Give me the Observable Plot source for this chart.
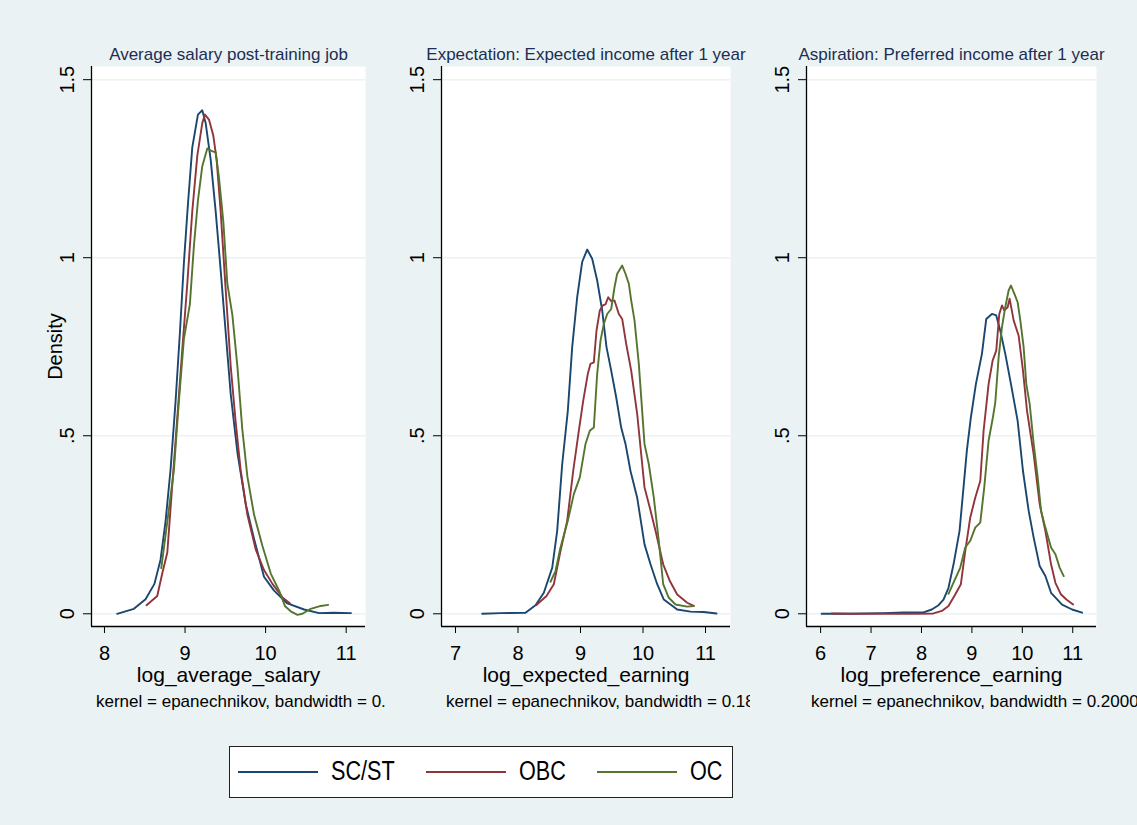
<!DOCTYPE html>
<html><head><meta charset="utf-8">
<script src="https://cdn.jsdelivr.net/npm/d3@7"></script>
<script src="https://cdn.jsdelivr.net/npm/@observablehq/plot@0.6"></script>
<style>
html,body{margin:0;padding:0;background:#eaf2f3;}
#root{position:relative;width:1137px;height:825px;background:#eaf2f3;font-family:"Liberation Sans",Arial,sans-serif;overflow:hidden}
.panel{position:absolute;top:0}
.legend{position:absolute;left:229px;top:746px;width:504px;height:52px;background:#fff;border:1.5px solid #222;box-sizing:border-box}
.sw{position:absolute;height:0;border-top:2.5px solid;top:24px}
.lt{position:absolute;top:9px;font-size:27px;line-height:30px;color:#000;transform:scaleX(0.8);transform-origin:left center;white-space:nowrap}
</style></head>
<body><div id="root"></div>
<script>
const groups = ["SC/ST", "OBC", "OC"];
const colors = ["#1a476f", "#90353b", "#55752f"];
const yTicks = [0, 0.5, 1, 1.5];
const yTickLabels = ["0", ".5", "1", "1.5"];

const titles = ["Average salary post-training job", "Expectation: Expected income after 1 year", "Aspiration: Preferred income after 1 year"];
const xLabels = ["log_average_salary", "log_expected_earning", "log_preference_earning"];
const captions = ["kernel = epanechnikov, bandwidth = 0.", "kernel = epanechnikov, bandwidth = 0.18", "kernel = epanechnikov, bandwidth = 0.2000"];
const xTicks1 = [8, 9, 10, 11];
const xTicks2 = [7, 8, 9, 10, 11];
const xTicks3 = [6, 7, 8, 9, 10, 11];

// Panel 1: log_average_salary
const salary_SCST = [[8.157,0],[8.365,0.014],[8.51,0.041],[8.62,0.084],[8.696,0.152],[8.758,0.259],[8.82,0.404],[8.883,0.598],[8.937,0.792],[8.986,0.986],[9.036,1.15],[9.09,1.31],[9.16,1.402],[9.214,1.414],[9.256,1.378],[9.318,1.276],[9.38,1.131],[9.442,0.966],[9.504,0.792],[9.567,0.617],[9.65,0.453],[9.754,0.307],[9.857,0.21],[9.98,0.104],[10.105,0.065],[10.27,0.029],[10.478,0.012],[10.665,0.002],[10.85,0.003],[11.06,0.002]];
const salary_OBC = [[8.522,0.024],[8.655,0.05],[8.717,0.113],[8.78,0.172],[8.84,0.356],[8.903,0.549],[8.966,0.743],[9.028,0.927],[9.09,1.131],[9.152,1.286],[9.214,1.378],[9.247,1.402],[9.297,1.388],[9.35,1.344],[9.392,1.276],[9.442,1.131],[9.483,0.985],[9.525,0.84],[9.567,0.695],[9.628,0.54],[9.69,0.404],[9.774,0.278],[9.877,0.181],[9.98,0.123],[10.085,0.084],[10.21,0.046],[10.304,0.029]];
const salary_OC = [[8.705,0.128],[8.78,0.259],[8.862,0.404],[8.924,0.598],[8.986,0.772],[9.06,0.869],[9.11,1.033],[9.16,1.16],[9.214,1.257],[9.276,1.307],[9.326,1.3],[9.38,1.296],[9.42,1.228],[9.475,1.102],[9.525,0.927],[9.587,0.84],[9.65,0.695],[9.71,0.52],[9.774,0.385],[9.857,0.278],[9.96,0.191],[10.064,0.113],[10.168,0.065],[10.242,0.021],[10.312,0.007],[10.395,-0.003],[10.457,0],[10.56,0.014],[10.685,0.022],[10.777,0.025]];

// Panel 2: log_expected_earning
const expected_SCST = [[7.427,0],[7.72,0.002],[8.12,0.003],[8.28,0.024],[8.413,0.059],[8.547,0.129],[8.627,0.233],[8.707,0.42],[8.797,0.57],[8.867,0.749],[8.947,0.889],[9.027,0.988],[9.107,1.023],[9.187,0.997],[9.267,0.936],[9.347,0.852],[9.416,0.749],[9.491,0.683],[9.571,0.608],[9.651,0.523],[9.72,0.477],[9.8,0.401],[9.907,0.326],[10.024,0.195],[10.12,0.139],[10.227,0.083],[10.333,0.04],[10.547,0.012],[10.76,0.006],[10.973,0.005],[11.176,0.001]];
const expected_OBC = [[8.29,0.024],[8.456,0.05],[8.573,0.083],[8.68,0.176],[8.787,0.261],[8.883,0.401],[8.973,0.514],[9.043,0.598],[9.117,0.674],[9.16,0.702],[9.213,0.706],[9.256,0.795],[9.309,0.852],[9.357,0.866],[9.4,0.869],[9.443,0.889],[9.491,0.878],[9.544,0.88],[9.613,0.842],[9.667,0.828],[9.731,0.758],[9.811,0.683],[9.907,0.561],[10.024,0.355],[10.109,0.298],[10.2,0.233],[10.323,0.139],[10.43,0.092],[10.547,0.054],[10.707,0.031],[10.813,0.022]];
const expected_OC = [[8.52,0.09],[8.6,0.12],[8.68,0.186],[8.797,0.261],[8.893,0.336],[8.989,0.383],[9.08,0.477],[9.149,0.514],[9.213,0.523],[9.267,0.674],[9.32,0.767],[9.373,0.814],[9.427,0.842],[9.491,0.856],[9.544,0.917],[9.587,0.955],[9.667,0.978],[9.72,0.955],[9.773,0.927],[9.811,0.88],[9.864,0.824],[9.933,0.702],[10.024,0.477],[10.093,0.42],[10.173,0.326],[10.253,0.204],[10.323,0.083],[10.413,0.045],[10.52,0.026],[10.707,0.02],[10.813,0.022]];

// Panel 3: log_preference_earning
const preferred_SCST = [[6.02,0],[6.583,0],[7.245,0.002],[7.642,0.004],[8.04,0.004],[8.205,0.012],[8.338,0.024],[8.437,0.04],[8.536,0.073],[8.636,0.139],[8.755,0.233],[8.834,0.355],[8.9,0.458],[8.98,0.552],[9.079,0.645],[9.199,0.73],[9.285,0.828],[9.397,0.842],[9.483,0.838],[9.563,0.795],[9.662,0.73],[9.775,0.645],[9.907,0.542],[10.013,0.401],[10.126,0.289],[10.225,0.214],[10.344,0.134],[10.457,0.106],[10.57,0.059],[10.788,0.026],[10.987,0.012],[11.185,0.003]];
const preferred_OBC = [[6.219,0.001],[6.649,0],[7.245,0],[7.907,0],[8.238,0.001],[8.404,0.008],[8.536,0.022],[8.669,0.054],[8.781,0.083],[8.868,0.176],[8.967,0.27],[9.066,0.326],[9.166,0.373],[9.232,0.514],[9.331,0.645],[9.411,0.711],[9.483,0.739],[9.543,0.842],[9.596,0.866],[9.642,0.852],[9.709,0.861],[9.748,0.885],[9.828,0.824],[9.927,0.781],[10.013,0.683],[10.093,0.57],[10.225,0.448],[10.344,0.308],[10.457,0.233],[10.57,0.139],[10.656,0.087],[10.768,0.054],[10.874,0.04],[11.007,0.026]];
const preferred_OC = [[8.536,0.056],[8.649,0.092],[8.768,0.129],[8.868,0.186],[8.967,0.205],[9.066,0.242],[9.166,0.256],[9.245,0.355],[9.331,0.486],[9.417,0.552],[9.464,0.594],[9.53,0.72],[9.596,0.805],[9.662,0.861],[9.728,0.908],[9.775,0.922],[9.841,0.899],[9.907,0.875],[9.96,0.824],[10.026,0.749],[10.079,0.645],[10.146,0.589],[10.225,0.477],[10.305,0.383],[10.371,0.289],[10.457,0.242],[10.57,0.186],[10.656,0.167],[10.742,0.129],[10.821,0.106]];

const FONT = '"Liberation Sans", Arial, sans-serif';
const yDomain = [-0.0357, 1.537];
const root = document.getElementById("root");

function panel(o) {
  const data = [];
  o.series.forEach((pts, i) => pts.forEach(([x, y]) => data.push({x, y, g: groups[i]})));
  const marks = [
    Plot.frame({fill: "white", stroke: "none"}),
    Plot.gridY(yTicks, {stroke: "#eaf2f3", strokeOpacity: 1, strokeWidth: 1.5}),
    Plot.line(data, {x: "x", y: "y", z: "g", stroke: "g", strokeWidth: 1.9}),
    Plot.ruleX([o.domain[0]], {stroke: "#000", strokeWidth: 1.3}),
    Plot.ruleY([yDomain[0]], {stroke: "#000", strokeWidth: 1.3}),
    Plot.axisX({ticks: o.xTicks, tickSize: 7, tickFormat: () => "", stroke: "#000", label: null}),
    Plot.axisY({ticks: yTicks, tickSize: 8, tickFormat: () => "", stroke: "#000", label: null}),
    Plot.text(o.xTicks, {x: d => d, frameAnchor: "bottom", dy: 33, lineAnchor: "bottom", fontSize: 20, fill: "#000", text: d => String(d)}),
    Plot.text(yTicks, {y: d => d, frameAnchor: "left", dx: -18, rotate: -90, textAnchor: "middle", lineAnchor: "bottom", fontSize: 20, fill: "#000", text: (d, i) => yTickLabels[i]}),
    Plot.text([o.title], {frameAnchor: "top", dy: -6.5, lineAnchor: "bottom", fontSize: 17, fill: "#1c2e52", text: d => d}),
    Plot.text([o.xLabel], {frameAnchor: "bottom", dy: 55, lineAnchor: "bottom", fontSize: 21, fill: "#000", text: d => d}),
    Plot.text([o.caption], {frameAnchor: "bottom-left", dx: 4.5, dy: 80, textAnchor: "start", lineAnchor: "bottom", fontSize: 17, fill: "#000", text: d => d})
  ];
  if (o.density) marks.push(Plot.text(["Density"], {frameAnchor: "left", dx: -30, rotate: -90, textAnchor: "middle", lineAnchor: "bottom", fontSize: 20, fill: "#000", text: d => d}));
  const svg = Plot.plot({
    width: o.width, height: 720,
    marginLeft: o.mL, marginRight: o.mR, marginTop: 66, marginBottom: 94,
    style: {background: "transparent", overflow: "hidden", fontFamily: FONT},
    x: {domain: o.domain, axis: null},
    y: {domain: yDomain, axis: null},
    color: {domain: groups, range: colors},
    marks
  });
  const div = document.createElement("div");
  div.className = "panel";
  div.style.left = o.left + "px";
  div.appendChild(svg);
  root.appendChild(div);
}

panel({left: 0, width: 388, mL: 91, mR: 23, domain: [7.839, 11.24], xTicks: xTicks1, title: titles[0], xLabel: xLabels[0], caption: captions[0], series: [salary_SCST, salary_OBC, salary_OC], density: true});
panel({left: 388, width: 362, mL: 53, mR: 20, domain: [6.776, 11.40], xTicks: xTicks2, title: titles[1], xLabel: xLabels[1], caption: captions[1], series: [expected_SCST, expected_OBC, expected_OC]});
panel({left: 750, width: 387, mL: 56, mR: 41, domain: [5.72, 11.471], xTicks: xTicks3, title: titles[2], xLabel: xLabels[2], caption: captions[2], series: [preferred_SCST, preferred_OBC, preferred_OC]});

// Legend
const lg = document.createElement("div");
lg.className = "legend";
const swX = [8, 196, 367];
const txX = [101, 289, 460];
groups.forEach((g, i) => {
  const s = document.createElement("div");
  s.className = "sw";
  s.style.left = swX[i] + "px";
  s.style.width = "80px";
  s.style.borderTopColor = colors[i];
  lg.appendChild(s);
  const t = document.createElement("div");
  t.className = "lt";
  t.style.left = txX[i] + "px";
  t.textContent = g;
  lg.appendChild(t);
});
root.appendChild(lg);
</script></body></html>
